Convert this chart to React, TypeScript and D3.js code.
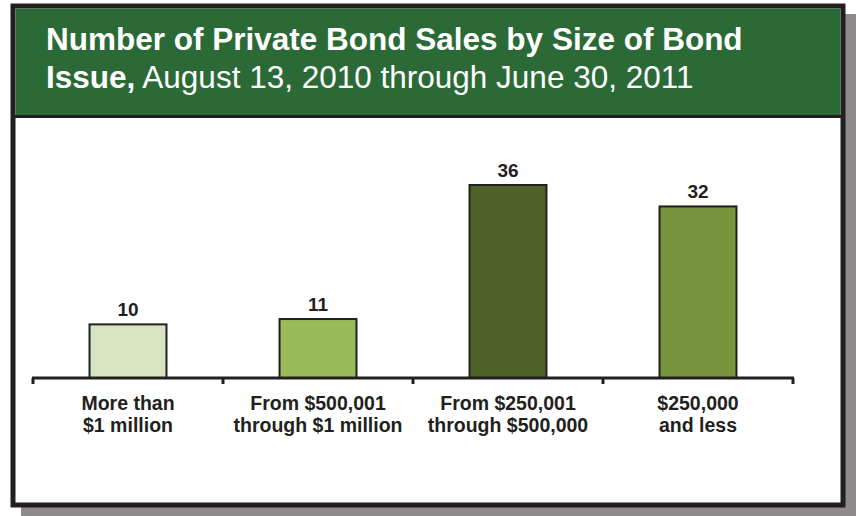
import React from 'react';
import * as d3 from 'd3';

const categories = ['More than|$1 million', 'From $500,001|through $1 million', 'From $250,001|through $500,000', '$250,000|and less'];
const values = [10, 11, 36, 32];
const barColors = ['#d8e4bf', '#9bbb59', '#4f6228', '#77933c'];

const W = 856;
const H = 516;
const ink = '#231f20';

export default function App() {
  const axisLeft = 33;
  const axisRight = 793;
  const baseY = 378;

  const x = d3.scaleBand<string>()
    .domain(categories)
    .range([axisLeft, axisRight])
    .paddingInner(0.595)
    .paddingOuter(0.2975);

  const y = d3.scaleLinear().domain([0, 36]).range([baseY, 185]);

  const tickXs = [axisLeft, ...categories.map((c) => (x(c) || 0) + x.bandwidth() / 2 + x.step() / 2)];

  return (
    <svg width={W} height={H} style={{ position: 'absolute', left: 0, top: 0 }} fontFamily="Arial, 'Liberation Sans', Helvetica, sans-serif">
      {/* shadow */}
      <rect x={21} y={14} width={835} height={502} fill="#8d8b8c" />
      {/* frame */}
      <rect x={13} y={6} width={830} height={499} fill="#fff" stroke={ink} strokeWidth={5} />
      {/* header */}
      <rect x={15.5} y={8.5} width={825} height={107} fill="#2b6a37" />
      <line x1={13} x2={843} y1={116.5} y2={116.5} stroke={ink} strokeWidth={3} />
      <text x={46} y={50} fill="#fff" fontSize={31.5} fontWeight="bold">Number of Private Bond Sales by Size of Bond</text>
      <text x={46} y={88} fill="#fff" fontSize={31.5}>
        <tspan fontWeight="bold">Issue,</tspan>
        <tspan> August 13, 2010 through June 30, 2011</tspan>
      </text>

      {/* bars */}
      {categories.map((c, i) => (
        <g key={c}>
          <rect
            x={x(c)}
            y={y(values[i])}
            width={x.bandwidth()}
            height={baseY - y(values[i])}
            fill={barColors[i]}
            stroke={ink}
            strokeWidth={2}
          />
          <text
            x={(x(c) || 0) + x.bandwidth() / 2}
            y={y(values[i]) - 8}
            textAnchor="middle"
            fontSize={19}
            fontWeight="bold"
            fill={ink}
          >
            {values[i]}
          </text>
          {c.split('|').map((line, j) => (
            <text
              key={j}
              x={(x(c) || 0) + x.bandwidth() / 2}
              y={410 + j * 22}
              textAnchor="middle"
              fontSize={19.5}
              fontWeight="bold"
              fill={ink}
            >
              {line}
            </text>
          ))}
        </g>
      ))}

      {/* axis */}
      <line x1={axisLeft - 1} x2={axisRight + 1} y1={baseY} y2={baseY} stroke={ink} strokeWidth={3} />
      {tickXs.map((tx, i) => (
        <line key={i} x1={tx} x2={tx} y1={baseY} y2={baseY + 6} stroke={ink} strokeWidth={3} />
      ))}
    </svg>
  );
}
